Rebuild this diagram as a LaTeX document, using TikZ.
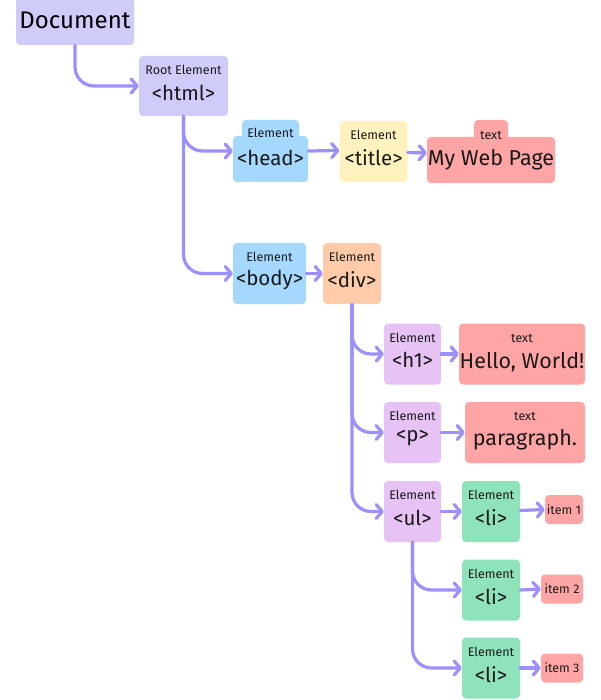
\documentclass[tikz,border=0pt]{standalone}
\usepackage{fontspec}
\setmainfont{Fira Sans}
\usetikzlibrary{arrows.meta,calc}
\definecolor{lav}{HTML}{D0CCFA}
\definecolor{bluebox}{HTML}{A5D8FF}
\definecolor{yelbox}{HTML}{FFF2BE}
\definecolor{redbox}{HTML}{FFA5A5}
\definecolor{orgbox}{HTML}{FFCBA8}
\definecolor{purbox}{HTML}{E6C2F5}
\definecolor{grnbox}{HTML}{8EE3BC}
\definecolor{arrc}{HTML}{9C90FF}
\tikzset{
  box/.style={rectangle, rounded corners=4pt, draw=none, inner sep=0pt},
  small/.style={font=\fontsize{12.5}{14}\selectfont, inner sep=0pt, text=black!90},
  big/.style={font=\fontsize{20.5}{23}\selectfont, inner sep=0pt, text=black!90},
  huge/.style={font=\fontsize{21.5}{24}\selectfont, inner sep=0pt, text=black!90},
  arr/.style={draw=arrc, line width=3.2pt, line cap=round, line join=round, rounded corners=19pt,
    -{Straight Barb[length=6pt,width=14pt,line cap=round,line join=round]}},
}
\begin{document}
\begin{tikzpicture}[x=1pt,y=-1pt]
\fill[white] (0,0) rectangle (600,700);
\useasboundingbox (0,0) rectangle (600,700);
% boxes
\node[box, fill=lav, minimum width=118pt, minimum height=50pt] (doc) at (75,20) {};
\node[box, fill=lav, minimum width=89pt, minimum height=60pt] (html) at (183.5,86) {};
\node[box, fill=bluebox, minimum width=57pt, minimum height=22pt] (headtab) at (270.5,131) {};
\node[box, fill=bluebox, minimum width=75pt, minimum height=46pt] (head) at (270.5,159) {};
\node[box, fill=yelbox, minimum width=68pt, minimum height=61pt] (title) at (373.5,151.5) {};
\node[box, fill=redbox, minimum width=34pt, minimum height=22pt] (mwptab) at (491,131) {};
\node[box, fill=redbox, minimum width=128pt, minimum height=46pt] (mwp) at (491,160) {};
\node[box, fill=bluebox, minimum width=73pt, minimum height=61pt] (body) at (269.5,273.5) {};
\node[box, fill=orgbox, minimum width=58pt, minimum height=61pt] (div) at (352,273.5) {};
\node[box, fill=purbox, minimum width=57pt, minimum height=61pt] (h1) at (412.5,354) {};
\node[box, fill=redbox, minimum width=126pt, minimum height=61pt] (hello) at (522,354) {};
\node[box, fill=purbox, minimum width=57pt, minimum height=61pt] (p) at (412.5,432.5) {};
\node[box, fill=redbox, minimum width=120pt, minimum height=61pt] (para) at (525,432.5) {};
\node[box, fill=purbox, minimum width=57pt, minimum height=61pt] (ul) at (412.5,511.5) {};
\node[box, fill=grnbox, minimum width=58pt, minimum height=61pt] (li1) at (491,511.5) {};
\node[box, fill=redbox, minimum width=38pt, minimum height=29pt] (item1) at (564,509.5) {};
\node[box, fill=grnbox, minimum width=58pt, minimum height=61pt] (li2) at (491,590) {};
\node[box, fill=redbox, minimum width=42pt, minimum height=29pt] (item2) at (562,589) {};
\node[box, fill=grnbox, minimum width=58pt, minimum height=61pt] (li3) at (491,668) {};
\node[box, fill=redbox, minimum width=42pt, minimum height=29pt] (item3) at (562,668) {};
% texts
\node[font=\fontsize{24}{27}\selectfont, inner sep=0pt] (doct) at (75,20) {Document};
\node[small] (htmla) at (183.5,70) {Root Element};
\node[big] (htmlb) at (183.5,93) {<html>};
\node[small] (heada) at (270.5,133) {Element};
\node[big] (headb) at (270.5,158) {<head>};
\node[small] (titlea) at (373.5,135) {Element};
\node[big] (titleb) at (373.5,158) {<title>};
\node[small] (mwpa) at (491,135) {text};
\node[huge] (mwpb) at (491,160) {My Web Page};
\node[small] (bodya) at (269.5,257) {Element};
\node[big] (bodyb) at (269.5,280) {<body>};
\node[small] (diva) at (352,257) {Element};
\node[big] (divb) at (352,280) {<div>};
\node[small] (h1a) at (412.5,338) {Element};
\node[big] (h1b) at (412.5,360) {<h1>};
\node[small] (helloa) at (522,338) {text};
\node[huge] (hellob) at (522,362) {Hello, World!};
\node[small] (pa) at (412.5,416) {Element};
\node[big] (pb) at (412.5,438) {<p>};
\node[small] (paraa) at (525,416) {text};
\node[huge] (parab) at (525,440) {paragraph.};
\node[small] (ula) at (412.5,495) {Element};
\node[big] (ulb) at (412.5,518) {<ul>};
\node[small] (li1a) at (491,495) {Element};
\node[big] (li1b) at (491,518) {<li>};
\node[small] (item1t) at (564,509.5) {item 1};
\node[small] (li2a) at (491,574) {Element};
\node[big] (li2b) at (491,597) {<li>};
\node[small] (item2t) at (562,589) {item 2};
\node[small] (li3a) at (491,652) {Element};
\node[big] (li3b) at (491,675) {<li>};
\node[small] (item3t) at (562,668) {item 3};
% connectors
\draw[arr] (doc.south) |- (html.west);
\draw[arr] (html.south) |- ($(head.west)+(0,-8)$);
\draw[arr] (html.south) |- (body.west);
\draw[arr] ($(head.east)+(0,-8)$) -- ($(title.west)+(0,-1)$);
\draw[arr] ($(title.east)+(0,1)$) -- ($(mwp.west)+(0,-7)$);
\draw[arr] (body.east) -- (div.west);
\draw[arr] (div.south) |- (h1.west);
\draw[arr] (div.south) |- (p.west);
\draw[arr] (div.south) |- (ul.west);
\draw[arr] (h1.east) -- (hello.west);
\draw[arr] (p.east) -- (para.west);
\draw[arr] (ul.east) -- (li1.west);
\draw[arr] (ul.south) |- (li2.west);
\draw[arr] (ul.south) |- (li3.west);
\draw[arr] ($(li1.east)+(0,-1)$) -- (item1.west);
\draw[arr] (li2.east) -- (item2.west);
\draw[arr] (li3.east) -- (item3.west);
\end{tikzpicture}
\end{document}
